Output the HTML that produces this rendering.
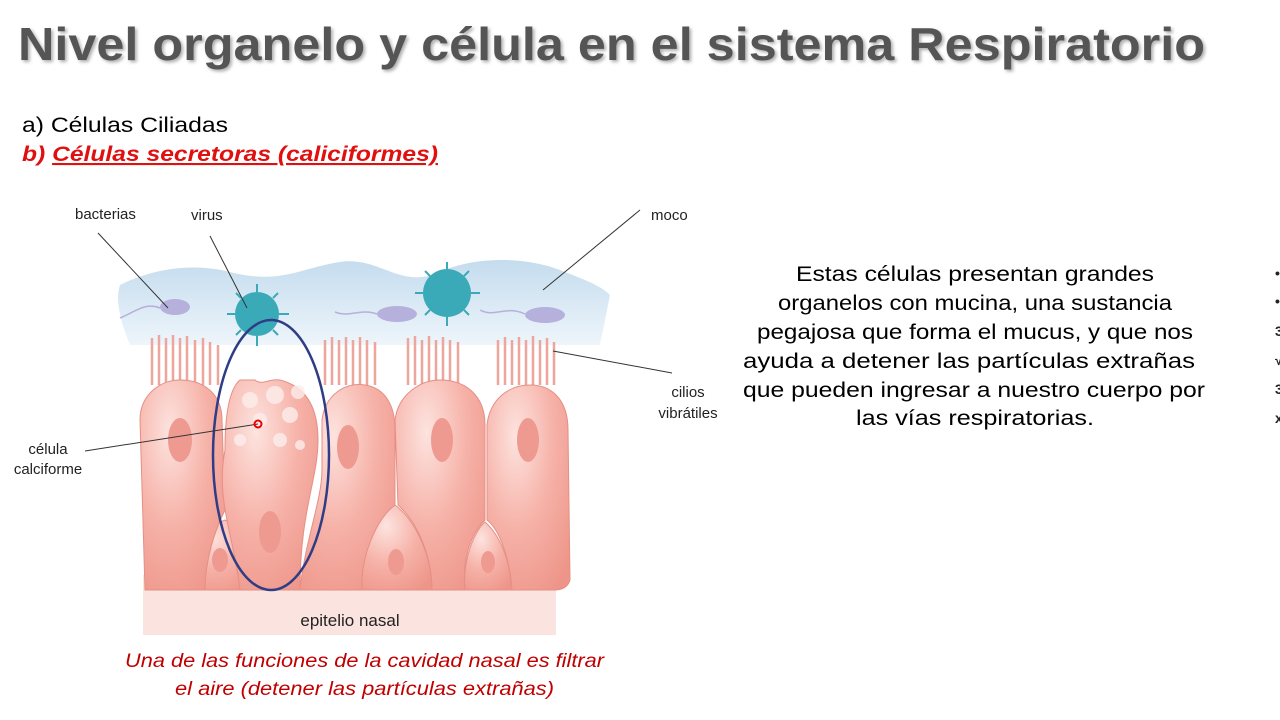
<!DOCTYPE html>
<html><head><meta charset="utf-8"><style>
html,body{margin:0;padding:0;background:#fff;}
svg{display:block;font-family:"Liberation Sans",sans-serif;}
</style></head><body>
<svg width="1280" height="720" viewBox="0 0 1280 720" xmlns="http://www.w3.org/2000/svg">
<defs>
<radialGradient id="cg" cx="0.35" cy="0.25" r="0.9">
<stop offset="0" stop-color="#fde3df"/><stop offset="0.5" stop-color="#f6b2a8"/><stop offset="1" stop-color="#ee9488"/>
</radialGradient>
<linearGradient id="mg" x1="0" y1="0" x2="0" y2="1">
<stop offset="0" stop-color="#c4dcee"/><stop offset="1" stop-color="#eef5fb"/>
</linearGradient>
<filter id="sh"><feDropShadow dx="2" dy="2" stdDeviation="1.5" flood-color="#999" flood-opacity="0.8"/></filter>
</defs>
<text x="18" y="60" font-size="46" font-weight="bold" fill="#555" filter="url(#sh)" textLength="1187" lengthAdjust="spacingAndGlyphs">Nivel organelo y célula en el sistema Respiratorio</text>
<text x="22" y="132" font-size="21" fill="#000" textLength="206" lengthAdjust="spacingAndGlyphs">a)  Células Ciliadas</text>
<text x="22" y="161" font-size="21" fill="#e01010" font-weight="bold" font-style="italic" textLength="416" lengthAdjust="spacingAndGlyphs">b)  <tspan text-decoration="underline">Células secretoras (caliciformes)</tspan></text>

<rect x="143" y="575" width="413" height="60" fill="#fbe4e0"/>
<path d="M120 285 C150 270 190 262 230 272 C280 285 300 268 340 262 C380 256 400 290 440 272 C470 258 520 255 560 270 C585 280 600 285 610 295 L600 345 L130 345 C120 320 115 300 120 285Z" fill="url(#mg)"/>
<g stroke="#eea59b" stroke-width="2.5" fill="none">
<path d="M152 385V338M159 385V335M166 385V338M173 385V335M180 385V338M187 385V336M195 385V340M203 385V338M210 385V342M218 385V345"/>
<path d="M325 385V340M332 385V337M339 385V340M346 385V337M353 385V340M360 385V337M367 385V340M375 385V342"/>
<path d="M408 385V338M415 385V336M422 385V340M429 385V336M436 385V340M443 385V337M450 385V340M458 385V342"/>
<path d="M498 385V340M505 385V337M512 385V340M519 385V337M526 385V340M533 385V336M540 385V340M547 385V338M554 385V342"/>
</g>
<g fill="url(#cg)" stroke="#e58f85" stroke-width="1">
<path d="M190 590 C185 560 210 525 225 520 C245 530 255 560 255 590Z"/>
<path d="M362 590 C360 550 380 515 395 505 C415 520 432 555 432 590Z"/>
<path d="M465 590 C462 560 475 530 485 522 C500 535 510 560 512 590Z"/>
</g>
<g fill="url(#cg)" stroke="#e58f85" stroke-width="1">
<path d="M145 590 L140 420 C140 395 160 380 180 380 C205 380 222 395 222 420 L225 510 C215 530 205 560 205 590Z"/>
<path d="M240 590 C235 540 215 500 225 450 C225 420 228 390 240 380 L255 380 C262 386 270 378 280 380 C300 385 318 400 318 440 C318 480 300 510 300 590Z"/>
<path d="M300 590 C305 540 322 500 322 470 L322 420 C325 395 345 382 365 385 C385 388 395 405 395 430 L395 505 C375 520 360 560 362 590Z"/>
<path d="M432 590 C432 560 420 525 398 505 L395 420 C398 395 420 380 440 380 C465 380 485 395 485 425 L485 520 C470 535 462 560 465 590Z"/>
<path d="M512 590 C510 560 500 530 487 520 L487 425 C490 398 510 385 530 385 C552 385 568 400 568 430 L570 580 C568 588 560 590 555 590Z"/>
</g>
<g fill="#fdeeec" opacity="0.8">
<circle cx="250" cy="400" r="8"/><circle cx="275" cy="395" r="9"/><circle cx="298" cy="392" r="7"/><circle cx="260" cy="420" r="7"/><circle cx="290" cy="415" r="8"/><circle cx="240" cy="440" r="6"/><circle cx="280" cy="440" r="7"/><circle cx="300" cy="445" r="5"/>
</g>
<g fill="#ee9a90">
<ellipse cx="180" cy="440" rx="12" ry="22"/><ellipse cx="270" cy="532" rx="11" ry="21"/><ellipse cx="348" cy="447" rx="11" ry="22"/><ellipse cx="442" cy="440" rx="11" ry="22"/><ellipse cx="528" cy="440" rx="11" ry="22"/>
<ellipse cx="220" cy="560" rx="8" ry="12"/><ellipse cx="396" cy="562" rx="8" ry="13"/><ellipse cx="488" cy="562" rx="7" ry="11"/>
</g>
<g fill="#b6b0dc">
<ellipse cx="175" cy="307" rx="15" ry="8"/><ellipse cx="397" cy="314" rx="20" ry="8"/><ellipse cx="545" cy="315" rx="20" ry="8"/>
</g>
<g stroke="#b6b0dc" stroke-width="1.5" fill="none">
<path d="M160 308 C145 302 135 312 120 318"/><path d="M377 314 C360 308 350 318 335 312"/><path d="M525 314 C505 305 495 318 480 310"/>
</g>
<g fill="#3aaab8">
<circle cx="257" cy="314" r="22"/><circle cx="447" cy="293" r="24"/>
</g>
<g stroke="#3aaab8" stroke-width="2">
<path d="M257 284V292M257 336V346M227 314H235M279 314H289M236 293L241 298M278 293L273 298M236 335L241 330M278 335L273 330"/>
<path d="M447 262V269M447 317V326M415 293H423M471 293H480M425 271L430 276M469 271L464 276M425 315L430 310M469 315L464 310"/>
</g>
<ellipse cx="271" cy="455" rx="58" ry="135" fill="none" stroke="#2e3d85" stroke-width="2.5"/>
<g stroke="#333" stroke-width="1">
<line x1="98" y1="233" x2="168" y2="308"/><line x1="210" y1="236" x2="247" y2="308"/><line x1="640" y1="210" x2="543" y2="290"/><line x1="553" y1="351" x2="672" y2="373"/><line x1="85" y1="451" x2="258" y2="424"/>
</g>
<circle cx="258" cy="424" r="3.5" fill="none" stroke="#e00" stroke-width="2"/>
<g font-size="15" fill="#222">
<text x="75" y="219">bacterias</text><text x="191" y="220">virus</text><text x="651" y="220">moco</text>
<text x="688" y="397" text-anchor="middle">cilios</text><text x="688" y="418" text-anchor="middle">vibrátiles</text>
<text x="48" y="454" text-anchor="middle">célula</text><text x="48" y="474" text-anchor="middle">calciforme</text>
<text x="350" y="626" text-anchor="middle" font-size="17">epitelio nasal</text>
</g>
<g font-size="19" fill="#c00000" font-style="italic" lengthAdjust="spacingAndGlyphs">
<text x="125" y="667" textLength="479" lengthAdjust="spacingAndGlyphs">Una de las funciones de la cavidad nasal es filtrar</text>
<text x="175" y="695" textLength="379" lengthAdjust="spacingAndGlyphs">el aire (detener las partículas extrañas)</text>
</g>
<g font-size="21" fill="#000">
<text x="796" y="281" textLength="358" lengthAdjust="spacingAndGlyphs">Estas células presentan grandes</text>
<text x="778" y="310" textLength="394" lengthAdjust="spacingAndGlyphs">organelos con mucina, una sustancia</text>
<text x="757" y="339" textLength="436" lengthAdjust="spacingAndGlyphs">pegajosa que forma el mucus, y que nos</text>
<text x="743" y="368" textLength="452" lengthAdjust="spacingAndGlyphs">ayuda a detener las partículas extrañas</text>
<text x="743" y="397" textLength="462" lengthAdjust="spacingAndGlyphs">que pueden ingresar a nuestro cuerpo por</text>
<text x="856" y="425" textLength="238" lengthAdjust="spacingAndGlyphs">las vías respiratorias.</text>
</g>
<g fill="#222" font-size="14" font-weight="bold"><text x="1275" y="278">•</text><text x="1275" y="306">•</text><text x="1275" y="336">3</text><text x="1275" y="365">√</text><text x="1275" y="394">3</text><text x="1275" y="423">x</text></g>
</svg>
</body></html>
